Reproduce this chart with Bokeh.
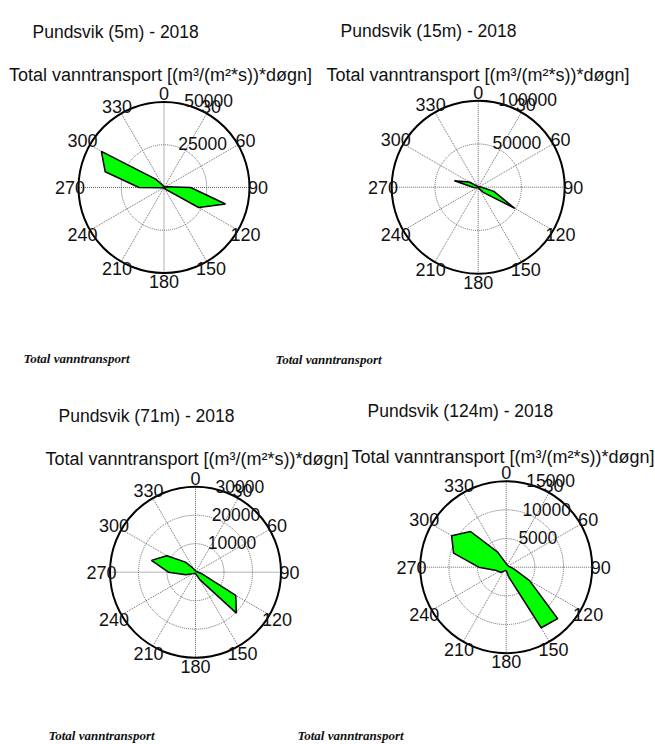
import math
from bokeh.plotting import figure
from bokeh.models import Range1d
from bokeh.core.properties import value
from bokeh.embed import file_html
from bokeh.resources import INLINE

# ---------------- data ----------------
directions = list(range(0, 360, 15))  # compass degrees, 0 = north, clockwise

vals_5m = [600, 400, 300, 400, 600, 1500, 15600, 37200, 23400, 1800, 600, 400,
           300, 300, 300, 400, 500, 800, 14600, 35600, 42300, 6900, 1500, 800]
vals_15m = [800, 500, 500, 600, 800, 1500, 4000, 18700, 48800, 9000, 1500, 800,
            500, 500, 500, 600, 1000, 3000, 6000, 28500, 12000, 2000, 1000, 800]
vals_71m = [500, 400, 300, 300, 400, 600, 1000, 2500, 16300, 20300, 3000, 800,
            500, 500, 500, 600, 1000, 3500, 9500, 16000, 11600, 5000, 1500, 700]
vals_124m = [600, 500, 400, 400, 400, 500, 800, 1500, 4700, 12700, 12200, 1800,
             600, 600, 800, 1300, 1500, 2000, 4800, 9500, 11000, 8800, 3100, 1000]

rings_5m = [25000, 50000]
rings_15m = [50000, 100000]
rings_71m = [10000, 20000, 30000]
rings_124m = [5000, 10000, 15000]

angle_ticks = list(range(0, 360, 30))
angle_labels = [str(a) for a in angle_ticks]

titles = ["Pundsvik (5m) - 2018", "Pundsvik (15m) - 2018",
          "Pundsvik (71m) - 2018", "Pundsvik (124m) - 2018"]
subtitle = "Total vanntransport [(m\u00b3/(m\u00b2*s))*d\u00f8gn]"
caption = "Total vanntransport"

SANS = value("Liberation Sans")
SERIF = value("Liberation Serif")
INK = "#111111"

W, H = 655, 744
OX, OY = 0, 0

p = figure(width=W, height=H, x_range=Range1d(0, W), y_range=Range1d(H, 0),
           x_axis_type=None, y_axis_type=None, toolbar_location=None,
           output_backend="svg", min_border=0, outline_line_color=None)
p.background_fill_color = "white"
p.border_fill_color = "white"


def panel(name, vals, rings, title, center, R, title_xy, sub_xy, cap_xy):
    rmax = rings[-1]
    s = rmax / R
    fx, fy = center[0] - OX, center[1] - OY
    p.extra_x_ranges[name] = Range1d(-fx * s, (W - fx) * s)
    p.extra_y_ranges[name] = Range1d(-(H - fy) * s, fy * s)
    kw = dict(x_range_name=name, y_range_name=name)

    # spokes
    x1 = [rmax * math.sin(math.radians(a)) for a in angle_ticks]
    y1 = [rmax * math.cos(math.radians(a)) for a in angle_ticks]
    p.segment(x0=[0] * len(x1), y0=[0] * len(y1), x1=x1, y1=y1,
              line_color="#666666", line_width=1, line_dash="1 1", **kw)
    inner = rings[:-1]
    p.circle(x=[0] * len(inner), y=[0] * len(inner), radius=inner,
             fill_color=None, line_color="#666666", line_width=1,
             line_dash="1 1", **kw)
    p.circle(x=[0], y=[0], radius=[rmax], fill_color=None,
             line_color="black", line_width=2, **kw)

    # data polygon
    xs = [v * math.sin(math.radians(a)) for a, v in zip(directions, vals)]
    ys = [v * math.cos(math.radians(a)) for a, v in zip(directions, vals)]
    p.patch(xs, ys, fill_color="#00ff00", line_color="black", line_width=1.5, **kw)

    # angle labels
    ax = [1.1 * rmax * math.sin(math.radians(a)) for a in angle_ticks]
    ay = [1.1 * rmax * math.cos(math.radians(a)) for a in angle_ticks]
    p.text(x=ax, y=ay, text=angle_labels, text_font=SANS, text_font_size="18px",
           text_align="center", text_baseline="middle", text_color=INK, **kw)

    # radial labels
    rinc = rings[0]
    rr = [r + rinc / 20 for r in rings]
    rx = [r * math.sin(math.radians(8)) for r in rr]
    ry = [r * math.cos(math.radians(8)) for r in rr]
    p.text(x=rx, y=ry, text=[str(r) for r in rings], text_font=SANS,
           text_font_size="17.5px", text_align="left", text_baseline="alphabetic",
           x_offset=8, text_color=INK, **kw)

    # texts, page pixel positions
    p.text(x=[title_xy[0] - OX], y=[title_xy[1] - OY], text=[title],
           text_font=SANS, text_font_size="17.5px", text_align="left",
           text_baseline="alphabetic", text_color=INK)
    p.text(x=[sub_xy[0] - OX], y=[sub_xy[1] - OY], text=[subtitle],
           text_font=SANS, text_font_size="18px", text_align="center",
           text_baseline="alphabetic", text_color=INK)
    p.text(x=[cap_xy[0] - OX], y=[cap_xy[1] - OY], text=[caption],
           text_font=SERIF, text_font_size="13px", text_font_style="bold italic",
           text_align="left", text_baseline="alphabetic", text_color=INK)


panel("p5", vals_5m, rings_5m, titles[0], (163.5, 187.0), 85.5,
      (32, 31), (160, 74), (23, 358))
panel("p15", vals_15m, rings_15m, titles[1], (477.7, 186.7), 86.5,
      (340, 30), (477.5, 74), (275, 359))
panel("p71", vals_71m, rings_71m, titles[2], (195.0, 571.7), 85.5,
      (58, 415), (196.5, 458), (48, 735))
panel("p124", vals_124m, rings_124m, titles[3], (505.7, 566.7), 86.0,
      (367, 410), (502.5, 456), (297, 735))

with open("out.html", "w") as f:
    f.write(file_html(p, INLINE))
